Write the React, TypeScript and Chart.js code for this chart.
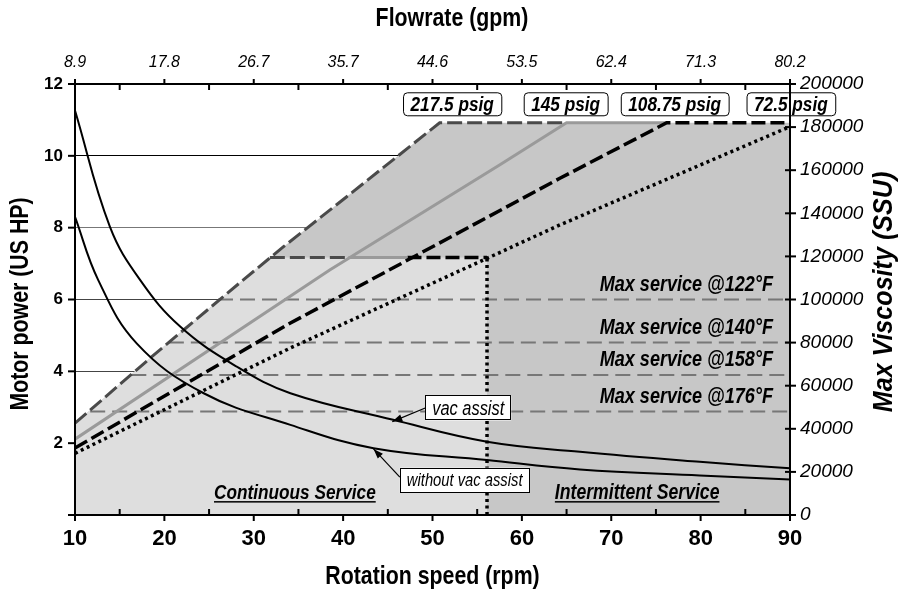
import React, { useEffect, useRef } from 'react';
import { Chart, registerables } from 'chart.js';

Chart.register(...registerables);

// ---------- data ----------
const rpmTicks = [10, 20, 30, 40, 50, 60, 70, 80, 90];
const rpmMinor = [15, 25, 35, 45, 55, 65, 75, 85];
const flowLabels = ['8.9', '17.8', '26.7', '35.7', '44.6', '53.5', '62.4', '71.3', '80.2'];
const hpTicks = [0, 2, 4, 6, 8, 10, 12];
const viscTicks = [0, 20000, 40000, 60000, 80000, 100000, 120000, 140000, 160000, 180000, 200000];

// Motor power (US HP) curves
const vacRpm = [10, 13.9, 17.3, 21.8, 28.1, 34.1, 45.6, 56.1, 66.5, 79.9, 90];
const vacHp = [11.26, 8.03, 6.54, 5.24, 4.13, 3.39, 2.65, 2.04, 1.76, 1.48, 1.3];
const noVacRpm = [10, 12.6, 16.9, 24.4, 34.1, 43.4, 56.1, 66.5, 79.9, 90];
const noVacHp = [8.3, 6.54, 4.78, 3.39, 2.51, 1.86, 1.53, 1.27, 1.1, 0.99];

// Pressure limit curves (Max viscosity, SSU)
const p217Rpm = [10, 18.8, 28.8, 33.3, 40.4, 50.8, 65.0];
const p217Visc = [42600, 74200, 109000, 124400, 147700, 182000, 182000];
const p145Rpm = [10, 38.5, 57.5, 65.0, 76.2];
const p145Visc = [35200, 113700, 162400, 182000, 182000];
const p108Rpm = [10, 34.05, 64.25, 76.2, 90];
const p108Visc = [31100, 88950, 156240, 182000, 182000];
const p72Rpm = [10, 34.05, 56.1, 64.25, 90];
const p72Visc = [28600, 77400, 119100, 134600, 180200];

const topLevel = 182000;
const contLevel = 119500;
const contRpm = [31.8, 40.6, 47.2, 56.1]; // continuous-service limit breakpoints
const psigLabels = ['217.5 psig', '145 psig', '108.75 psig', '72.5 psig'];
const psigLabelRpm = [52.2, 64.9, 77.1, 90.1];

// Max service temperature limits
const tempLabels = ['Max service @122°F', 'Max service @140°F', 'Max service @158°F', 'Max service @176°F'];
const tempLevels = [100000, 80000, 65000, 48000];
const tempStartRpm = [26.0, 20.5, 16.3, 11.7];

const SANS = "'Liberation Sans', Arial, sans-serif";
const SX = 0.82; // horizontal condensing for the condensed typeface look

const pts = (xs: number[], ys: number[]) => xs.map((x, i) => ({ x, y: ys[i] }));

function buildDatasets() {
  const topIdx = p217Visc.indexOf(topLevel);
  const dark = pts(p217Rpm.slice(0, topIdx + 1), p217Visc.slice(0, topIdx + 1));
  dark.push({ x: 90, y: topLevel });
  const light = pts(p217Rpm, p217Visc).filter((p) => p.y < contLevel);
  light.push({ x: contRpm[0], y: contLevel }, { x: contRpm[3], y: contLevel }, { x: contRpm[3], y: 0 });

  const base = { pointRadius: 0, pointHoverRadius: 0, fill: false, borderCapStyle: 'butt' as const };
  const ds: any[] = [];
  ds.push({ ...base, data: dark, yAxisID: 'y1', fill: 'origin', backgroundColor: '#c7c7c7', borderWidth: 0, order: 100 });
  ds.push({ ...base, data: light, yAxisID: 'y1', fill: 'origin', backgroundColor: '#dedede', borderWidth: 0, order: 99 });
  tempLevels.forEach((lv, i) => {
    ds.push({ ...base, data: [{ x: tempStartRpm[i], y: lv }, { x: 90, y: lv }], yAxisID: 'y1', borderColor: '#777777', borderWidth: 2, borderDash: [15, 7], order: 50 });
  });
  const segStyles = [
    { borderColor: '#4a4a4a', borderWidth: 3, borderDash: [15, 5] },
    { borderColor: '#9a9a9a', borderWidth: 3, borderDash: [] },
    { borderColor: '#000000', borderWidth: 3.5, borderDash: [14, 5] },
  ];
  for (let i = 0; i < 3; i++) {
    ds.push({ ...base, ...segStyles[i], data: [{ x: contRpm[i], y: contLevel }, { x: contRpm[i + 1], y: contLevel }], yAxisID: 'y1', order: 40 });
  }
  ds.push({ ...base, data: [{ x: contRpm[3], y: 0 }, { x: contRpm[3], y: contLevel }], yAxisID: 'y1', borderColor: '#000', borderWidth: 3.5, borderDash: [3, 3.5], order: 39 });
  ds.push({ ...base, ...segStyles[0], data: pts(p217Rpm, p217Visc), yAxisID: 'y1', order: 33 });
  ds.push({ ...base, ...segStyles[1], data: pts(p145Rpm, p145Visc), yAxisID: 'y1', order: 32 });
  ds.push({ ...base, ...segStyles[2], data: pts(p108Rpm, p108Visc), yAxisID: 'y1', order: 31 });
  ds.push({ ...base, data: pts(p72Rpm, p72Visc), yAxisID: 'y1', borderColor: '#000', borderWidth: 3.5, borderDash: [3, 3.5], order: 30 });
  ds.push({ ...base, data: pts(vacRpm, vacHp), yAxisID: 'y', borderColor: '#000', borderWidth: 2, tension: 0.4, order: 10 });
  ds.push({ ...base, data: pts(noVacRpm, noVacHp), yAxisID: 'y', borderColor: '#000', borderWidth: 2, tension: 0.4, order: 11 });
  return ds;
}

function condText(ctx: CanvasRenderingContext2D, t: string, x: number, y: number, font: string, align: CanvasTextAlign, sx = SX, rot = 0) {
  ctx.save();
  ctx.font = font;
  ctx.textAlign = align;
  ctx.textBaseline = 'middle';
  ctx.translate(x, y);
  if (rot) ctx.rotate(rot);
  ctx.scale(sx, 1);
  ctx.fillText(t, 0, 0);
  ctx.restore();
}
function condWidth(ctx: CanvasRenderingContext2D, t: string, font: string, sx = SX) {
  ctx.save();
  ctx.font = font;
  const w = ctx.measureText(t).width * sx;
  ctx.restore();
  return w;
}

function roundRect(ctx: CanvasRenderingContext2D, x: number, y: number, w: number, h: number, r: number) {
  ctx.beginPath();
  ctx.moveTo(x + r, y);
  ctx.lineTo(x + w - r, y);
  ctx.quadraticCurveTo(x + w, y, x + w, y + r);
  ctx.lineTo(x + w, y + h - r);
  ctx.quadraticCurveTo(x + w, y + h, x + w - r, y + h);
  ctx.lineTo(x + r, y + h);
  ctx.quadraticCurveTo(x, y + h, x, y + h - r);
  ctx.lineTo(x, y + r);
  ctx.quadraticCurveTo(x, y, x + r, y);
  ctx.closePath();
}

function arrow(ctx: CanvasRenderingContext2D, x0: number, y0: number, x1: number, y1: number) {
  ctx.beginPath();
  ctx.moveTo(x0, y0);
  ctx.lineTo(x1, y1);
  ctx.strokeStyle = '#000';
  ctx.lineWidth = 1.2;
  ctx.stroke();
  const a = Math.atan2(y1 - y0, x1 - x0);
  const L = 10, W = 3.5;
  ctx.beginPath();
  ctx.moveTo(x1, y1);
  ctx.lineTo(x1 - L * Math.cos(a) + W * Math.sin(a), y1 - L * Math.sin(a) - W * Math.cos(a));
  ctx.lineTo(x1 - L * Math.cos(a) - W * Math.sin(a), y1 - L * Math.sin(a) + W * Math.cos(a));
  ctx.closePath();
  ctx.fillStyle = '#000';
  ctx.fill();
}

const decorPlugin = {
  id: 'decor',
  afterDatasetsDraw(chart: any) {
    const ctx: CanvasRenderingContext2D = chart.ctx;
    const x = chart.scales.x, y = chart.scales.y, y1 = chart.scales.y1;
    ctx.save();
    ctx.fillStyle = '#000';
    // psig labels
    const psFont = `italic bold 21px ${SANS}`;
    const topY = y1.getPixelForValue(topLevel);
    psigLabels.forEach((t, i) => {
      const cx = x.getPixelForValue(psigLabelRpm[i]);
      const w = condWidth(ctx, t, psFont) + 15;
      const h = 23;
      const cy = topY - 19;
      roundRect(ctx, cx - w / 2 + 0.5, cy - h / 2 + 0.5, w, h, 4);
      ctx.fillStyle = '#fff';
      ctx.fill();
      ctx.strokeStyle = '#000';
      ctx.lineWidth = 1;
      ctx.stroke();
      ctx.fillStyle = '#000';
      condText(ctx, t, cx, cy + 1, psFont, 'center');
    });
    // temperature labels
    tempLabels.forEach((t, i) => {
      condText(ctx, t, chart.chartArea.right - 17, y1.getPixelForValue(tempLevels[i]) - 15, `italic bold 22px ${SANS}`, 'right');
    });
    // vac assist boxes
    const box = (t: string, rpm: number, hp: number, size: number) => {
      const f = `italic ${size}px ${SANS}`;
      const cx = x.getPixelForValue(rpm), cy = y.getPixelForValue(hp);
      const w = condWidth(ctx, t, f) + 14, h = 25;
      ctx.fillStyle = '#fff';
      ctx.fillRect(cx - w / 2, cy - h / 2, w, h);
      ctx.strokeStyle = '#000';
      ctx.lineWidth = 1;
      ctx.strokeRect(Math.round(cx - w / 2) + 0.5, Math.round(cy - h / 2) + 0.5, Math.round(w) - 1, h - 1);
      ctx.fillStyle = '#000';
      condText(ctx, t, cx, cy + 1, f, 'center');
      return { left: cx - w / 2, cy };
    };
    const b1 = box('vac assist', 54.0, 2.98, 20);
    arrow(ctx, b1.left, b1.cy, x.getPixelForValue(45.5), y.getPixelForValue(2.6));
    const b2 = box('without vac assist', 53.6, 0.97, 18);
    arrow(ctx, b2.left, b2.cy - 3, x.getPixelForValue(43.4), y.getPixelForValue(1.84));
    // service zone labels
    const zone = (t: string, rpm: number, size: number) => {
      const zf = `italic bold ${size}px ${SANS}`;
      const cx = x.getPixelForValue(rpm), cy = y.getPixelForValue(0.61);
      ctx.fillStyle = '#000';
      condText(ctx, t, cx, cy, zf, 'center');
      const w = condWidth(ctx, t, zf);
      ctx.fillRect(cx - w / 2, cy + 8, w, 1.5);
    };
    zone('Continuous Service', 34.6, 21);
    zone('Intermittent Service', 72.9, 21.5);
    ctx.restore();
  },
  afterDraw(chart: any) {
    const ctx: CanvasRenderingContext2D = chart.ctx;
    const { left, right, top, bottom } = chart.chartArea;
    const x = chart.scales.x, y = chart.scales.y, y1 = chart.scales.y1;
    ctx.save();
    ctx.strokeStyle = '#000';
    ctx.lineWidth = 2;
    const line = (a: number, b: number, c: number, d: number) => {
      ctx.beginPath(); ctx.moveTo(a, b); ctx.lineTo(c, d); ctx.stroke();
    };
    rpmTicks.forEach((v) => {
      const px = x.getPixelForValue(v);
      line(px, bottom, px, bottom + 6);
      line(px, top, px, top - 5);
    });
    rpmMinor.forEach((v) => {
      const px = x.getPixelForValue(v);
      line(px, bottom, px, bottom - 6);
      line(px, top, px, top + 6);
    });
    hpTicks.forEach((v) => {
      const py = y.getPixelForValue(v);
      line(left - 7, py, left, py);
    });
    viscTicks.forEach((v) => {
      const py = y1.getPixelForValue(v);
      line(right - 5, py, right + 6, py);
    });
    // titles
    ctx.fillStyle = '#000';
    const tf = `bold 26px ${SANS}`;
    condText(ctx, 'Flowrate (gpm)', 452, 19, tf, 'center');
    condText(ctx, 'Rotation speed (rpm)', (left + right) / 2, 577, tf, 'center');
    condText(ctx, 'Motor power (US HP)', 21, 304, tf, 'center', SX, -Math.PI / 2);
    condText(ctx, 'Max Viscosity (SSU)', 885, 292, `italic bold 27px ${SANS}`, 'center', 0.93, -Math.PI / 2);
    ctx.restore();
  },
};

export default function App() {
  const ref = useRef<HTMLCanvasElement>(null);
  useEffect(() => {
    const noGrid = { drawOnChartArea: false, drawTicks: false };
    const border = { display: true, color: '#000', width: 2, z: 1 };
    const chart = new Chart(ref.current as HTMLCanvasElement, {
      type: 'line',
      data: { datasets: buildDatasets() },
      options: {
        responsive: false,
        maintainAspectRatio: false,
        animation: false,
        devicePixelRatio: 1,
        layout: { padding: 0 },
        plugins: { legend: { display: false }, tooltip: { enabled: false } },
        scales: {
          x: {
            type: 'linear', position: 'bottom', min: 10, max: 90,
            ticks: { stepSize: 10, autoSkip: false, maxRotation: 0, color: '#000', padding: 11, font: { family: SANS, size: 22, weight: 'bold' }, callback: (v: any) => String(v) },
            grid: noGrid, border,
            afterFit: (s: any) => { s.height = 74; },
          },
          x2: {
            type: 'linear', position: 'top', min: 10, max: 90, display: true,
            ticks: { stepSize: 10, autoSkip: false, maxRotation: 0, color: '#000', padding: 12, font: { family: SANS, size: 16, style: 'italic' }, callback: (_v: any, i: number) => flowLabels[i] },
            grid: noGrid, border,
            afterFit: (s: any) => { s.height = 84; },
          },
          y: {
            type: 'linear', position: 'left', min: 0, max: 12,
            ticks: { stepSize: 2, autoSkip: false, color: '#000', padding: 12, font: { family: SANS, size: 17, weight: 'bold' }, callback: (v: any) => (v === 0 ? '' : String(v)) },
            grid: {
              drawOnChartArea: true, drawTicks: false, lineWidth: 1,
              color: (c: any) => (c.tick.value === 10 ? '#000' : c.tick.value === 8 ? '#777' : c.tick.value === 0 || c.tick.value === 12 ? 'rgba(0,0,0,0)' : '#444'),
            },
            border,
            afterFit: (s: any) => { s.width = 75; },
          },
          y1: {
            type: 'linear', position: 'right', min: 0, max: 200000,
            ticks: { stepSize: 20000, autoSkip: false, color: '#000', padding: 10, font: { family: SANS, size: 19, style: 'italic' }, callback: (v: any) => String(v) },
            grid: noGrid, border,
            afterFit: (s: any) => { s.width = 114; },
          },
        },
      } as any,
      plugins: [decorPlugin],
    });
    return () => chart.destroy();
  }, []);
  return (
    <div style={{ position: 'fixed', left: 0, top: 0, width: 904, height: 589, background: '#fff' }}>
      <canvas ref={ref} width={904} height={589} style={{ display: 'block', width: 904, height: 589 }} />
    </div>
  );
}
